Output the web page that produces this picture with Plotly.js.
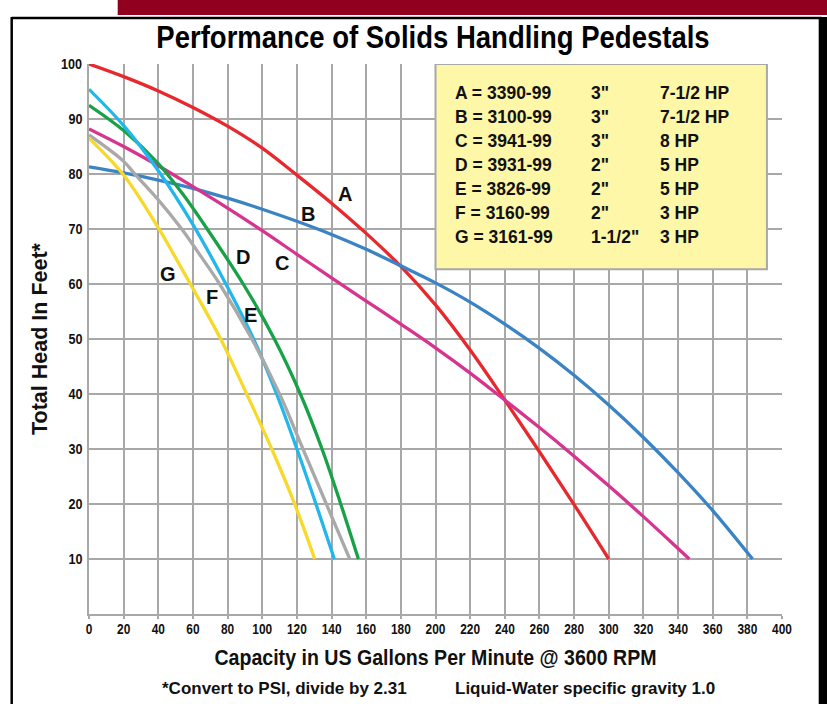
<!DOCTYPE html>
<html>
<head>
<meta charset="utf-8">
<script src="https://cdn.plot.ly/plotly-3.0.1.min.js"></script>
<style>
html,body{margin:0;padding:0;background:#fff;}
#chart{width:827px;height:704px;}
</style>
</head>
<body>
<div id="chart"></div>
<script>
// ---- Data ----
const pumpCodes = ['A','B','C','D','E','F','G'];
const pumpModels = ['3390-99','3100-99','3941-99','3931-99','3826-99','3160-99','3161-99'];
const pumpSizes = ['3"','3"','3"','2"','2"','2"','1-1/2"'];
const pumpHP = ['7-1/2 HP','7-1/2 HP','8 HP','5 HP','5 HP','3 HP','3 HP'];

const gpmA = [0,20,40,60,80,100,120,140,160,180,200,220,240,260,280,300];
const headA = [100,97.7,95.1,92.1,88.7,84.7,79.8,74.7,69.2,63.2,56.2,48.0,38.9,29.5,19.9,10];

const gpmB = [0,20,40,60,80,100,120,140,160,180,200,220,240,260,280,300,320,340,360,383];
const headB = [81.3,80.2,78.9,77.4,75.6,73.6,71.4,69.0,66.3,63.3,60.2,56.7,52.7,48.3,43.4,38.0,32.1,25.7,18.8,10];

const gpmC = [0,20,40,60,80,100,120,140,160,180,200,220,240,260,280,300,320,340,346.5];
const headC = [88.2,85.0,81.5,77.7,73.8,69.7,65.4,61.1,56.9,52.7,48.4,43.8,38.9,33.9,28.7,23.3,17.7,11.9,10];

const gpmD = [0,20,40,54,68,89,107,122,134.5,145.3,155.5];
const headD = [92.5,87.9,81.9,76.4,70.1,60,50,40,30,20,10];

const gpmE = [0,20,40,60,79,95,108.3,120,131,141.6];
const headE = [95.4,88.8,80.6,70.8,60,50,40,30,20,10];

const gpmF = [0,20,27,40,53.5,62,75.4,94,110,123.5,137,150.5];
const headF = [87.1,82.3,79.8,75.3,70,66.2,60,50,40,30,20,10];

const gpmG = [0,20,40,46,58.5,76,91,105.5,118.7,130.3];
const headG = [86.5,79.8,70.2,67,60,50,40,30,20,10];

const xTickVals = [0,20,40,60,80,100,120,140,160,180,200,220,240,260,280,300,320,340,360,380,400];
const yTickVals = [10,20,30,40,50,60,70,80,90,100];

// ---- Styling / placement ----
const colors = {A:'#e7282d',B:'#3a84c6',C:'#d6348e',D:'#17a247',E:'#22b7ec',F:'#a9a9a9',G:'#f6d92b'};
const labelPos = {A:[148,76.3],B:[126.5,72.7],C:[111.4,63.8],D:[88.9,65],E:[93.1,54.4],F:[71.2,57.7],G:[45.6,61.9]};

const series = [
  ['A',gpmA,headA],['B',gpmB,headB],['C',gpmC,headC],['D',gpmD,headD],
  ['E',gpmE,headE],['F',gpmF,headF],['G',gpmG,headG]
];

// plot area in pixels: x 89.3..782.3, y 64..614
const PL=89.3, PR=782.3, PT=64, PB=614;
const px2x = p => (p-PL)/(PR-PL);
const py2y = p => (PB-p)/(PB-PT);

const traces = series.map(([k,x,y]) => ({
  type:'scatter', mode:'lines', x:x, y:y, name:k,
  line:{color:colors[k], width:3.3, shape:'spline', smoothing:1},
  hoverinfo:'skip', showlegend:false, cliponaxis:true
}));

const sans = 'Liberation Sans, Arial, Helvetica, sans-serif';

const annotations = [];
pumpCodes.forEach(k => {
  annotations.push({x:labelPos[k][0], y:labelPos[k][1], xref:'x', yref:'y', text:'<b>'+k+'</b>',
    showarrow:false, font:{family:sans, size:20, color:'#111'}});
});
const rowTop = 94.67, rowStep = 4.345;
pumpCodes.forEach((k,i) => {
  const yy = rowTop - i*rowStep;
  annotations.push({x:209.9, y:yy, xref:'x', yref:'y', xanchor:'left', yanchor:'middle',
    text:'<b>'+k+' = '+pumpModels[i]+'</b>', showarrow:false, font:{family:sans, size:17.5, color:'#111'}});
  annotations.push({x:288.6, y:yy, xref:'x', yref:'y', xanchor:'left', yanchor:'middle',
    text:'<b>'+pumpSizes[i]+'</b>', showarrow:false, font:{family:sans, size:17.5, color:'#111'}});
  annotations.push({x:328.4, y:yy, xref:'x', yref:'y', xanchor:'left', yanchor:'middle',
    text:'<b>'+pumpHP[i]+'</b>', showarrow:false, font:{family:sans, size:17.5, color:'#111'}});
});
annotations.push({x:px2x(409), y:py2y(688), xref:'paper', yref:'paper', xanchor:'right', yanchor:'middle',
  text:'<b>*Convert to PSI, divide by 2.31</b>', showarrow:false, font:{family:sans, size:17, color:'#111'}});
annotations.push({x:px2x(453), y:py2y(688), xref:'paper', yref:'paper', xanchor:'left', yanchor:'middle',
  text:'<b>Liquid-Water specific gravity 1.0</b>', showarrow:false, font:{family:sans, size:17, color:'#111'}});

const shapes = [
  {type:'rect', xref:'x', yref:'y', x0:200, x1:391.3, y0:62.7, y1:100,
   fillcolor:'#fef7a8', line:{color:'#a8a8a8', width:2}, layer:'above'},
  {type:'rect', xref:'paper', yref:'paper', x0:px2x(118), x1:px2x(830), y0:py2y(-2), y1:py2y(15),
   fillcolor:'#920020', line:{width:0}},
  {type:'line', xref:'paper', yref:'paper', x0:px2x(12), x1:px2x(822), y0:py2y(18), y1:py2y(18),
   line:{color:'#000', width:2.5}},
  {type:'line', xref:'paper', yref:'paper', x0:px2x(12), x1:px2x(12), y0:py2y(17), y1:py2y(710),
   line:{color:'#000', width:2.5}},
  {type:'rect', xref:'paper', yref:'paper', x0:px2x(819), x1:px2x(830), y0:py2y(17), y1:py2y(710),
   fillcolor:'#000', line:{width:0}}
];

const layout = {
  width:827, height:704,
  margin:{l:PL, r:827-PR, t:PT, b:704-PB, pad:0},
  paper_bgcolor:'#fff', plot_bgcolor:'#fff',
  title:{text:'<b>Performance of Solids Handling Pedestals</b>', x:433/827, xref:'container', xanchor:'center',
    y:1-37/704, yref:'container', yanchor:'middle', font:{family:sans, size:32, color:'#000'}},
  xaxis:{range:[0,400], tickvals:xTickVals, ticktext:xTickVals.map(String), showgrid:true,
    gridcolor:'#a8a8a8', gridwidth:2, showline:true, linecolor:'#a8a8a8', linewidth:2,
    ticks:'outside', ticklen:3, tickcolor:'#a8a8a8', tickwidth:2, zeroline:false, ticklabelstandoff:-2,
    tickfont:{family:sans, size:14, color:'#111', weight:'bold'},
    title:{text:'<b>Capacity in US Gallons Per Minute @ 3600 RPM</b>', standoff:14,
      font:{family:sans, size:22, color:'#111'}}, fixedrange:true},
  yaxis:{range:[0,100], tickvals:yTickVals, ticktext:yTickVals.map(String), showgrid:true,
    gridcolor:'#a8a8a8', gridwidth:2, showline:true, linecolor:'#a8a8a8', linewidth:2,
    ticks:'', zeroline:false, ticklabelstandoff:1,
    tickfont:{family:sans, size:14, color:'#111', weight:'bold'},
    title:{text:'<b>Total Head In Feet*</b>', standoff:6,
      font:{family:sans, size:21.5, color:'#111'}}, fixedrange:true},
  shapes:shapes,
  annotations:annotations,
  showlegend:false
};

// horizontally condense a text element around its own centre (imitates the condensed face)
function condense(sel, s){
  document.querySelectorAll(sel).forEach(el => {
    const bb = el.getBBox();
    const cx = bb.x + bb.width/2;
    const t = el.getAttribute('transform') || '';
    el.setAttribute('transform', t + ' translate(' + cx + ',0) scale(' + s + ',1) translate(' + (-cx) + ',0)');
  });
}

Plotly.newPlot('chart', traces, layout, {staticPlot:true, displayModeBar:false}).then(() => {
  condense('#chart .gtitle', 0.86);
  condense('#chart .xtitle', 0.89);
  condense('#chart .xtick text', 0.85);
  condense('#chart .ytick text', 0.9);
});
</script>
</body>
</html>
